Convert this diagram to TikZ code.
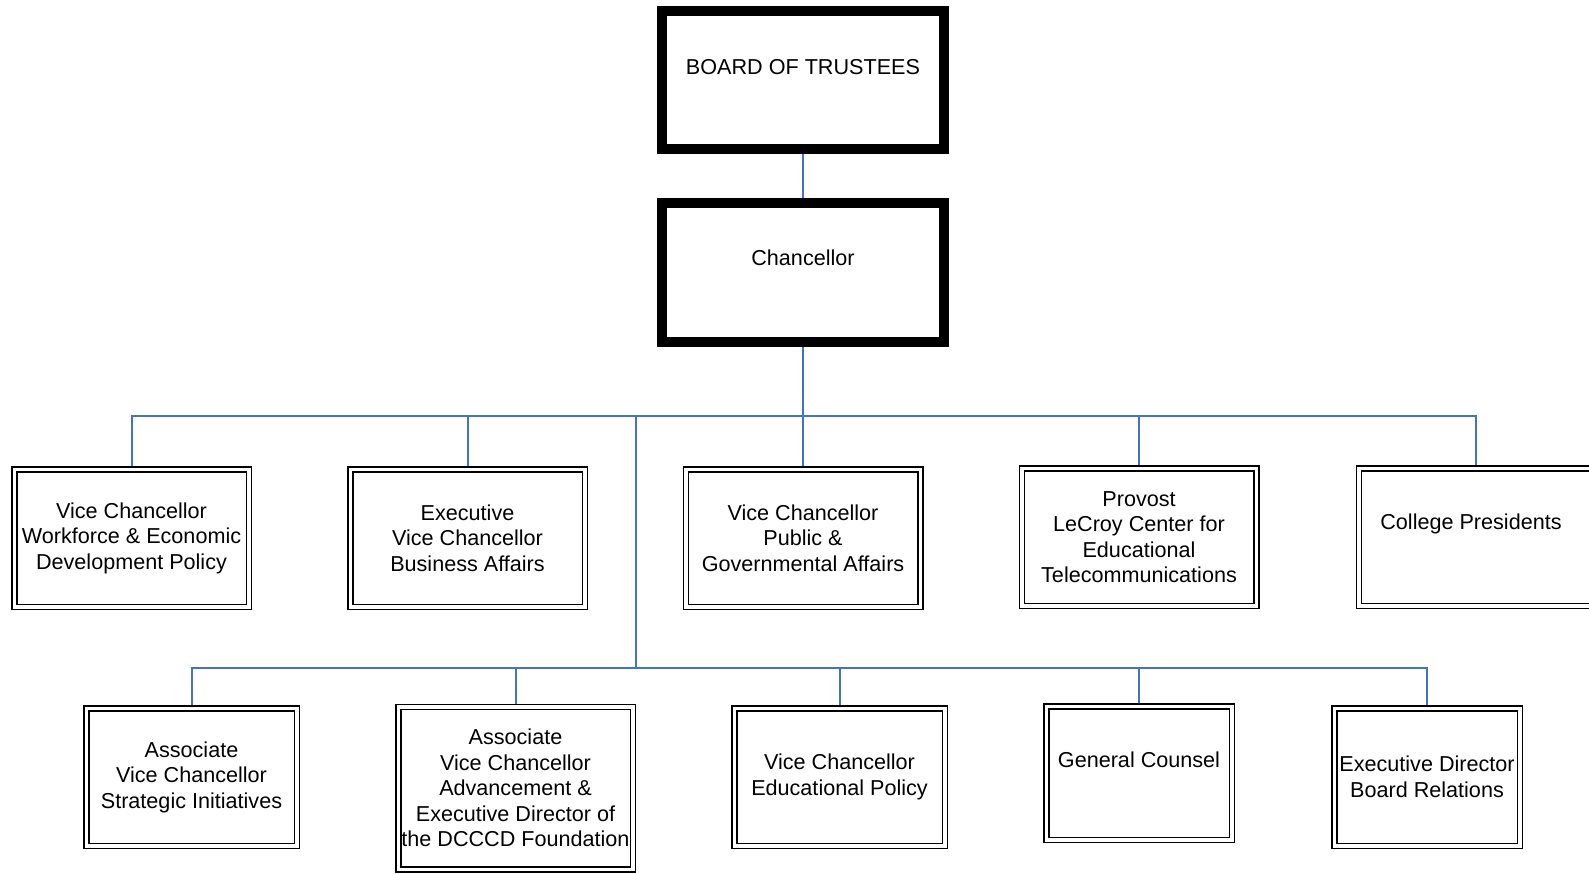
\documentclass[tikz,border=0pt]{standalone}
\usepackage{fontspec}
\setmainfont{Liberation Sans}
\usetikzlibrary{backgrounds}
\definecolor{lienbleu}{RGB}{68,114,196}
\begin{document}
\begin{tikzpicture}[x=1pt,y=-1pt,
  poste/.style={draw,line width=1.5pt,double=white,double distance=3.5pt,fill=white,
    inner sep=0pt,outer sep=0pt,align=center,font=\fontsize{21.6}{25.5}\selectfont},
  tete/.style={draw,line width=10pt,fill=white,inner sep=0pt,outer sep=0pt,
    minimum width=282pt,minimum height=138pt},
  texte/.style={inner sep=0pt,align=center,font=\fontsize{21.6}{25.5}\selectfont},
  lien/.style={draw=lienbleu,line width=2pt}]
\useasboundingbox (0,0) rectangle (1589,873);
% Direction : deux cadres épais, le texte placé dans le haut du cadre.
\node[tete] (board) at (803,80) {};
\node[texte] (boardtxt) at (803,67) {BOARD OF TRUSTEES};
\node[tete,minimum height=139pt] (chan) at (803,272.5) {};
\node[texte] (chantxt) at (803,258) {Chancellor};
% Premier rang : cinq cadres doubles, le dernier coupé par le bord droit.
\node[poste,minimum width=234.5pt,minimum height=137.5pt] (r1) at (131.5,538)
  {Vice Chancellor\\Workforce \& Economic\\Development Policy};
\node[poste,minimum width=234.5pt,minimum height=137.5pt] (r2) at (467.5,538)
  {Executive\\Vice Chancellor\\Business Affairs};
\node[poste,minimum width=234.5pt,minimum height=137.5pt] (r3) at (803,538)
  {Vice Chancellor\\Public \&\\Governmental Affairs};
\node[poste,minimum width=234.5pt,minimum height=137.5pt] (r4) at (1139,537)
  {Provost\\LeCroy Center for\\Educational\\Telecommunications};
\node[poste,minimum width=234.5pt,minimum height=137.5pt] (r5) at (1476,537) {};
\node[texte] (r5txt) at (1471,524) {College Presidents};
% Second rang : cinq cadres doubles sous la barre basse.
\node[poste,minimum width=210.5pt,minimum height=137.5pt] (s1) at (191.5,777)
  {Associate\\Vice Chancellor\\Strategic Initiatives};
\node[poste,minimum width=234.5pt,minimum height=162.5pt] (s2) at (515.5,788)
  {Associate\\Vice Chancellor\\Advancement \&\\Executive Director of\\the DCCCD Foundation};
\node[poste,minimum width=210.5pt,minimum height=137.5pt] (s3) at (839.5,777)
  {Vice Chancellor\\Educational Policy};
\node[poste,minimum width=185.5pt,minimum height=133.5pt] (s4) at (1139,773) {};
\node[texte] (s4txt) at (1139,760) {General Counsel};
\node[poste,minimum width=185.5pt,minimum height=137.5pt] (s5) at (1427,777)
  {Executive Director\\Board Relations};
% Liens bleus, passés sous les cadres.
\coordinate (barre1) at (636,416);
\coordinate (barre2) at (636,668);
\begin{pgfonlayer}{background}
\draw[lien] (board.center) -- (chan.center) -- (r3.center);
\draw[lien] (r1.center) |- (barre1) -| (r5.center);
\draw[lien] (r2.center) |- (barre1);
\draw[lien] (r4.center) |- (barre1);
\draw[lien] (barre1) -- (barre2);
\draw[lien] (s1.center) |- (barre2) -| (s5.center);
\draw[lien] (s2.center) |- (barre2);
\draw[lien] (s3.center) |- (barre2);
\draw[lien] (s4.center) |- (barre2);
\end{pgfonlayer}
\end{tikzpicture}
\end{document}
